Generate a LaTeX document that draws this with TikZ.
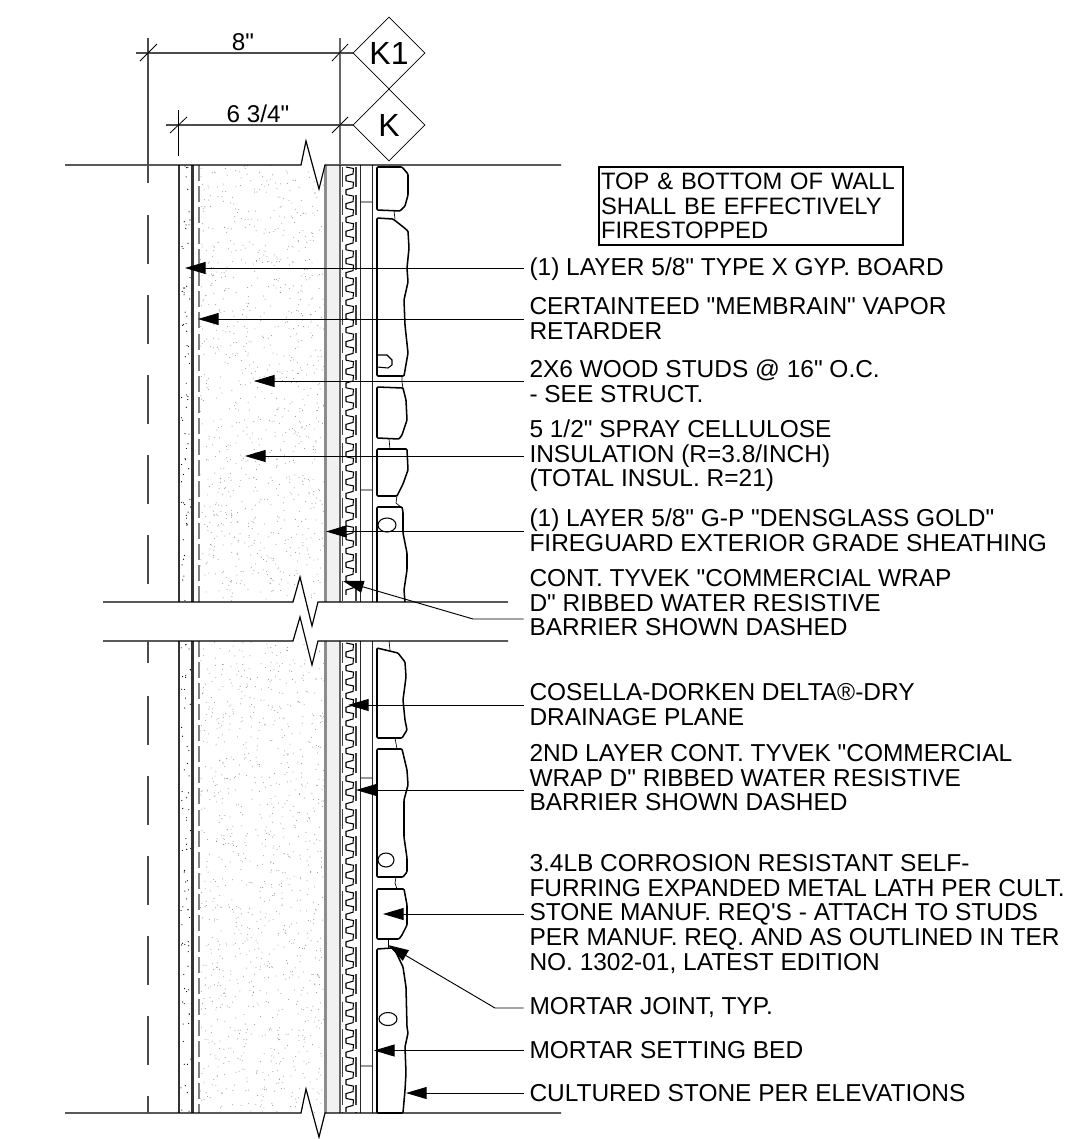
\documentclass[tikz,border=0pt]{standalone}
\usepackage{fontspec}
\setmainfont{Liberation Sans}[Ligatures=TeXOff]
\usetikzlibrary{
    arrows.meta,
    shapes.geometric
}
\definecolor{sheathing fill}{gray}{0.945}
\tikzset{
    % Colors
    dim color/.style={black!70},
    edge gray/.style={black!45},
    %
    % Wall layers
    break line/.style={line width=.9pt,black},
    wall line/.style={line width=1.7pt,black!80},
    stud line/.style={line width=1pt,black!85},
    stone/.style={line width=1.15pt,black,line join=round,rounded corners=.7pt},
    stone joint/.style={line width=.5pt,black},
    lath rib/.style={line width=.8pt,black},
    lath dash/.style={line width=.9pt,black!75,dash pattern=on 15pt off 5.7pt},
    vapor dash/.style={line width=1.3pt,black!50,dash pattern=on 12pt off 3.8pt},
    furring tie/.style={line width=.8pt,black!40},
    center mark/.style={line width=1pt,black!70},
    %
    % Dimensions
    dim line/.style={dim color,line width=1pt},
    dim tick/.style={black,line width=.6pt},
    dim text/.style={font=\fontsize{18.2}{19}\selectfont,inner sep=0pt},
    grid mark/.style={diamond,draw,line width=.6pt,inner sep=0pt,minimum width=54pt,minimum height=54pt,font=\fontsize{24}{24}\selectfont},
    %
    % Notes and arrows
    note/.style={anchor=west,align=left,inner sep=0pt,outer xsep=4.5pt,font=\fontsize{18.35}{18.4}\selectfont},
    note box/.style={anchor=north west,draw,line width=1.5pt,align=left,inner xsep=1.6pt,inner ysep=0pt,text width=225pt,minimum height=58.5pt,font=\fontsize{17.8}{18.4}\selectfont},
    arrow tip/.tip={Triangle[length=15.5pt,width=9pt]},
    leader/.style={-{arrow tip},line width=.7pt,black},
}
\begin{document}
\begin{tikzpicture}[x=.75pt,y=-.75pt]
    \useasboundingbox (0,0) rectangle (1072,1139);
    \pgfmathsetseed{4711}
    %
    % Insulation and gypsum stipple
    \fill[black!42] foreach \i in {1,...,950} {({200+124*rnd},{165+437*rnd}) circle (.38pt)};
    \fill[black!42] foreach \i in {1,...,1030} {({200+124*rnd},{641+472*rnd}) circle (.38pt)};
    \fill[black] foreach \i in {1,...,70} {({181+10*rnd},{165+437*rnd}) circle (.45pt)};
    \fill[black] foreach \i in {1,...,75} {({181+10*rnd},{641+472*rnd}) circle (.45pt)};
    \fill[white] (312.5,165) -- (319,189) -- (325,165) -- cycle;
    \fill[white] (293,602) -- (300,577) -- (306.2,602) -- cycle;
    \fill[white] (305.9,641) -- (312,665) -- (318,641) -- cycle;
    \fill[white] (301,1113) -- (306,1089) -- (312.5,1113) -- cycle;
    %
    % Sheathing
    \fill[sheathing fill] (325,165) rectangle (339,602);
    \fill[sheathing fill] (325,641) rectangle (339,1113);
    \foreach \ya/\yb in {165/602,641/1113} {
        \draw[edge gray,line width=2pt] (325.5,\ya) -- (325.5,\yb);
        \draw[wall line] (178.8,\ya) -- (178.8,\yb);
        \draw[wall line] (192.5,\ya) -- (192.5,\yb);
        \draw[vapor dash] (199,\ya) -- (199,\yb);
        \draw[black!60,line width=1.4pt] (339.8,\ya) -- (339.8,\yb);
        \draw[lath dash] (342.5,\ya+2) -- (342.5,\yb);
        \draw[lath dash] (356,\ya+2) -- (356,\yb);
        \draw[stud line] (360.7,\ya) -- (360.7,\yb);
        \draw[stud line] (372.7,\ya) -- (372.7,\yb);
    }
    \foreach \y in {202,490,778,1066}
        \draw[furring tie] (361,\y) -- (372,\y);
    %
    % Ribs
    \foreach \y in {167,180.8,...,590}
        \draw[lath rib] (346,\y) -- (353.5,\y+1.5) -- (353,\y+7) -- (346,\y+9) -- (346,\y+13.8);
    \foreach \y in {643,656.8,...,1100}
        \draw[lath rib] (346,\y) -- (353.5,\y+1.5) -- (353,\y+7) -- (346,\y+9) -- (346,\y+13.8);
    %
    % Stones
    \draw[stone] (377,167) -- (402,167) -- (408,174) -- (408,195) -- (405,206) -- (400,211) -- (377,210) -- cycle;
    \draw[stone joint] (394,211) -- (395,219);
    \draw[stone] (377,218) -- (393,219) -- (402,226) -- (408,231) -- (409,248) -- (407,268) -- (408,282) -- (404,300) -- (405,325) -- (408,353) -- (404,376) -- (377,376) -- cycle;
    \draw[line width=.8pt,black] (377,355) -- (387,355) -- (392,360) -- (392,365) -- (388,368) -- (377,367);
    \draw[stone joint] (402,377) -- (402,382) -- (403,388);
    \draw[stone] (377,387) -- (403,388) -- (406,400) -- (407,420) -- (402,435) -- (399,439) -- (377,438) -- cycle;
    \draw[stone joint] (389,439) -- (390,449);
    \draw[stone] (377,449) -- (407,449) -- (408,470) -- (403,484) -- (397,496) -- (377,496) -- cycle;
    \draw[stone joint] (397,496) -- (396,503) -- (402,508);
    \draw[stone] (377,602) -- (377,507) -- (402,507) -- (403,512) -- (403,533) -- (407,553) -- (407,570) -- (404,590) -- (405,602);
    \draw[line width=.8pt,black] (387,525) ellipse (9 and 7);
    \draw[stone joint] (389,641) -- (390,650);
    \draw[stone] (377,648) -- (398,653) -- (405,662) -- (406,677) -- (403,700) -- (405,720) -- (407,730) -- (402,738) -- (377,738) -- cycle;
    \draw[stone joint] (395,738) -- (397,749);
    \draw[stone] (377,749) -- (402,749) -- (407,770) -- (408,785) -- (404,800) -- (404,837) -- (407,858) -- (407,872) -- (403,877) -- (377,877) -- cycle;
    \draw[line width=.8pt,black] (386,860) ellipse (8 and 7);
    \draw[stone joint] (396,877) -- (395,883) -- (397,889);
    \draw[stone] (377,889) -- (404,889) -- (407,905) -- (407,925) -- (402,935) -- (399,939) -- (377,939) -- cycle;
    \draw[stone joint] (388,939) -- (388,948);
    \draw[stone] (394,948) -- (403,967) -- (406,987) -- (407,1027) -- (408,1033) -- (405,1047) -- (406,1073) -- (405,1090) -- (403,1113) -- (377,1113) -- (377,949) -- (392,948);
    \draw[line width=.8pt,black] (388,1019) ellipse (9 and 6.5);
    %
    % Break lines
    \draw[break line] (65,165) -- (301,165) -- (306,141) -- (319,189) -- (325,165) -- (561,165);
    \draw[break line] (103,602) -- (293,602) -- (300,577) -- (312,626) -- (318,602) -- (508,602);
    \draw[break line] (103,641) -- (293,641) -- (300,617) -- (312,665) -- (318,641) -- (508,641);
    \draw[break line] (65,1113) -- (301,1113) -- (306,1089) -- (319,1137) -- (325,1113) -- (561,1113);
    %
    % Center mark
    \draw[center mark] (148,37.5) -- (148,183);
    \foreach \y in {215,295,375,455,535,696,776,856,936,1016}
        \draw[center mark] (148,\y) -- (148,\y+49);
    \draw[center mark] (148,641) -- (148,663);
    \draw[center mark] (148,1096) -- (148,1113);
    %
    % Dimensions
    \node[grid mark] (Mark K1) at (389,53) {K1};
    \node[grid mark] (Mark K) at (389,125) {K};
    \node[dim text] (Dim Outer) at (243,42) {8"};
    \node[dim text] (Dim Inner) at (258,114) {6 3/4"};
    \coordinate (Outer End) at (136,53);
    \coordinate (Inner End) at (166,125);
    \coordinate (Inner Ext Top) at (178.5,110);
    \coordinate (Inner Ext Bottom) at (178.5,156);
    \coordinate (Face Top) at (340,38);
    \coordinate (Face Bottom) at (340,165);
    \draw[dim line] (Mark K1.west) -- (Outer End);
    \draw[dim line] (Mark K.west) -- (Inner End);
    \draw[dim tick] (Inner Ext Top) -- (Inner Ext Bottom);
    \draw[black!60,line width=1.2pt] (Face Top) -- (Face Bottom);
    \draw[dim tick] (140,61) -- (157,44);
    \draw[dim tick] (332,61) -- (348,44);
    \draw[dim tick] (170,133) -- (187,117);
    \draw[dim tick] (332,133) -- (348,117);
    %
    % Notes
    \node[note box] (Firestop Note) at (598,166) {TOP \& BOTTOM OF WALL\\SHALL BE EFFECTIVELY\\FIRESTOPPED};
    \node[note] (Note Gyp) at (523.5,269) {(1) LAYER 5/8" TYPE X GYP. BOARD};
    \node[note] (Note Vapor) at (523.5,318.5) {CERTAINTEED "MEMBRAIN" VAPOR\\RETARDER};
    \node[note] (Note Studs) at (523.5,381) {2X6 WOOD STUDS @ 16" O.C.\\- SEE STRUCT.};
    \node[note] (Note Insul) at (523.5,456) {5 1/2" SPRAY CELLULOSE\\INSULATION (R=3.8/INCH)\\(TOTAL INSUL. R=21)};
    \node[note] (Note Sheath) at (523.5,530.5) {(1) LAYER 5/8" G-P "DENSGLASS GOLD"\\FIREGUARD EXTERIOR GRADE SHEATHING};
    \node[note] (Note Tyvek) at (523.5,603) {CONT. TYVEK "COMMERCIAL WRAP\\D" RIBBED WATER RESISTIVE\\BARRIER SHOWN DASHED};
    \node[note] (Note Delta) at (523.5,704.5) {COSELLA-DORKEN DELTA®-DRY\\DRAINAGE PLANE};
    \node[note] (Note Second) at (523.5,778) {2ND LAYER CONT. TYVEK "COMMERCIAL\\WRAP D" RIBBED WATER RESISTIVE\\BARRIER SHOWN DASHED};
    \node[note] (Note Lath) at (523.5,914) {3.4LB CORROSION RESISTANT SELF-\\FURRING EXPANDED METAL LATH PER CULT.\\STONE MANUF. REQ'S - ATTACH TO STUDS\\PER MANUF. REQ. AND AS OUTLINED IN TER\\NO. 1302-01, LATEST EDITION};
    \node[note] (Note Joint) at (523.5,1008) {MORTAR JOINT, TYP.};
    \node[note] (Note Bed) at (523.5,1050) {MORTAR SETTING BED};
    \node[note] (Note Stone) at (523.5,1093) {CULTURED STONE PER ELEVATIONS};
    %
    % Leaders
    \coordinate (Tip Gyp) at (185,268);
    \coordinate (Tip Vapor) at (198,319);
    \coordinate (Tip Studs) at (254,381);
    \coordinate (Tip Insul) at (245,456);
    \coordinate (Tip Sheath) at (326,531.5);
    \coordinate (Tip Tyvek) at (343,581);
    \coordinate (Bend Tyvek) at (473,619);
    \coordinate (Tip Delta) at (348,705);
    \coordinate (Tip Second) at (356,790);
    \coordinate (Tip Lath) at (383,914);
    \coordinate (Tip Joint) at (388,945);
    \coordinate (Bend Joint) at (495,1008);
    \coordinate (Tip Bed) at (374,1050.5);
    \coordinate (Tip Stone) at (406,1093);
    \draw[leader] (Note Gyp.west |- Tip Gyp) -- (Tip Gyp);
    \draw[leader] (Note Vapor.west |- Tip Vapor) -- (Tip Vapor);
    \draw[leader] (Note Studs.west |- Tip Studs) -- (Tip Studs);
    \draw[leader] (Note Insul.west |- Tip Insul) -- (Tip Insul);
    \draw[leader] (Note Sheath.west |- Tip Sheath) -- (Tip Sheath);
    \draw[leader] (Note Tyvek.west |- Bend Tyvek) -- (Bend Tyvek) -- (Tip Tyvek);
    \draw[leader] (Note Delta.west |- Tip Delta) -- (Tip Delta);
    \draw[leader] (Note Second.west |- Tip Second) -- (Tip Second);
    \draw[leader] (Note Lath.west |- Tip Lath) -- (Tip Lath);
    \draw[leader] (Note Joint.west |- Bend Joint) -- (Bend Joint) -- (Tip Joint);
    \draw[leader] (Note Bed.west |- Tip Bed) -- (Tip Bed);
    \draw[leader] (Note Stone.west |- Tip Stone) -- (Tip Stone);
\end{tikzpicture}
\end{document}
